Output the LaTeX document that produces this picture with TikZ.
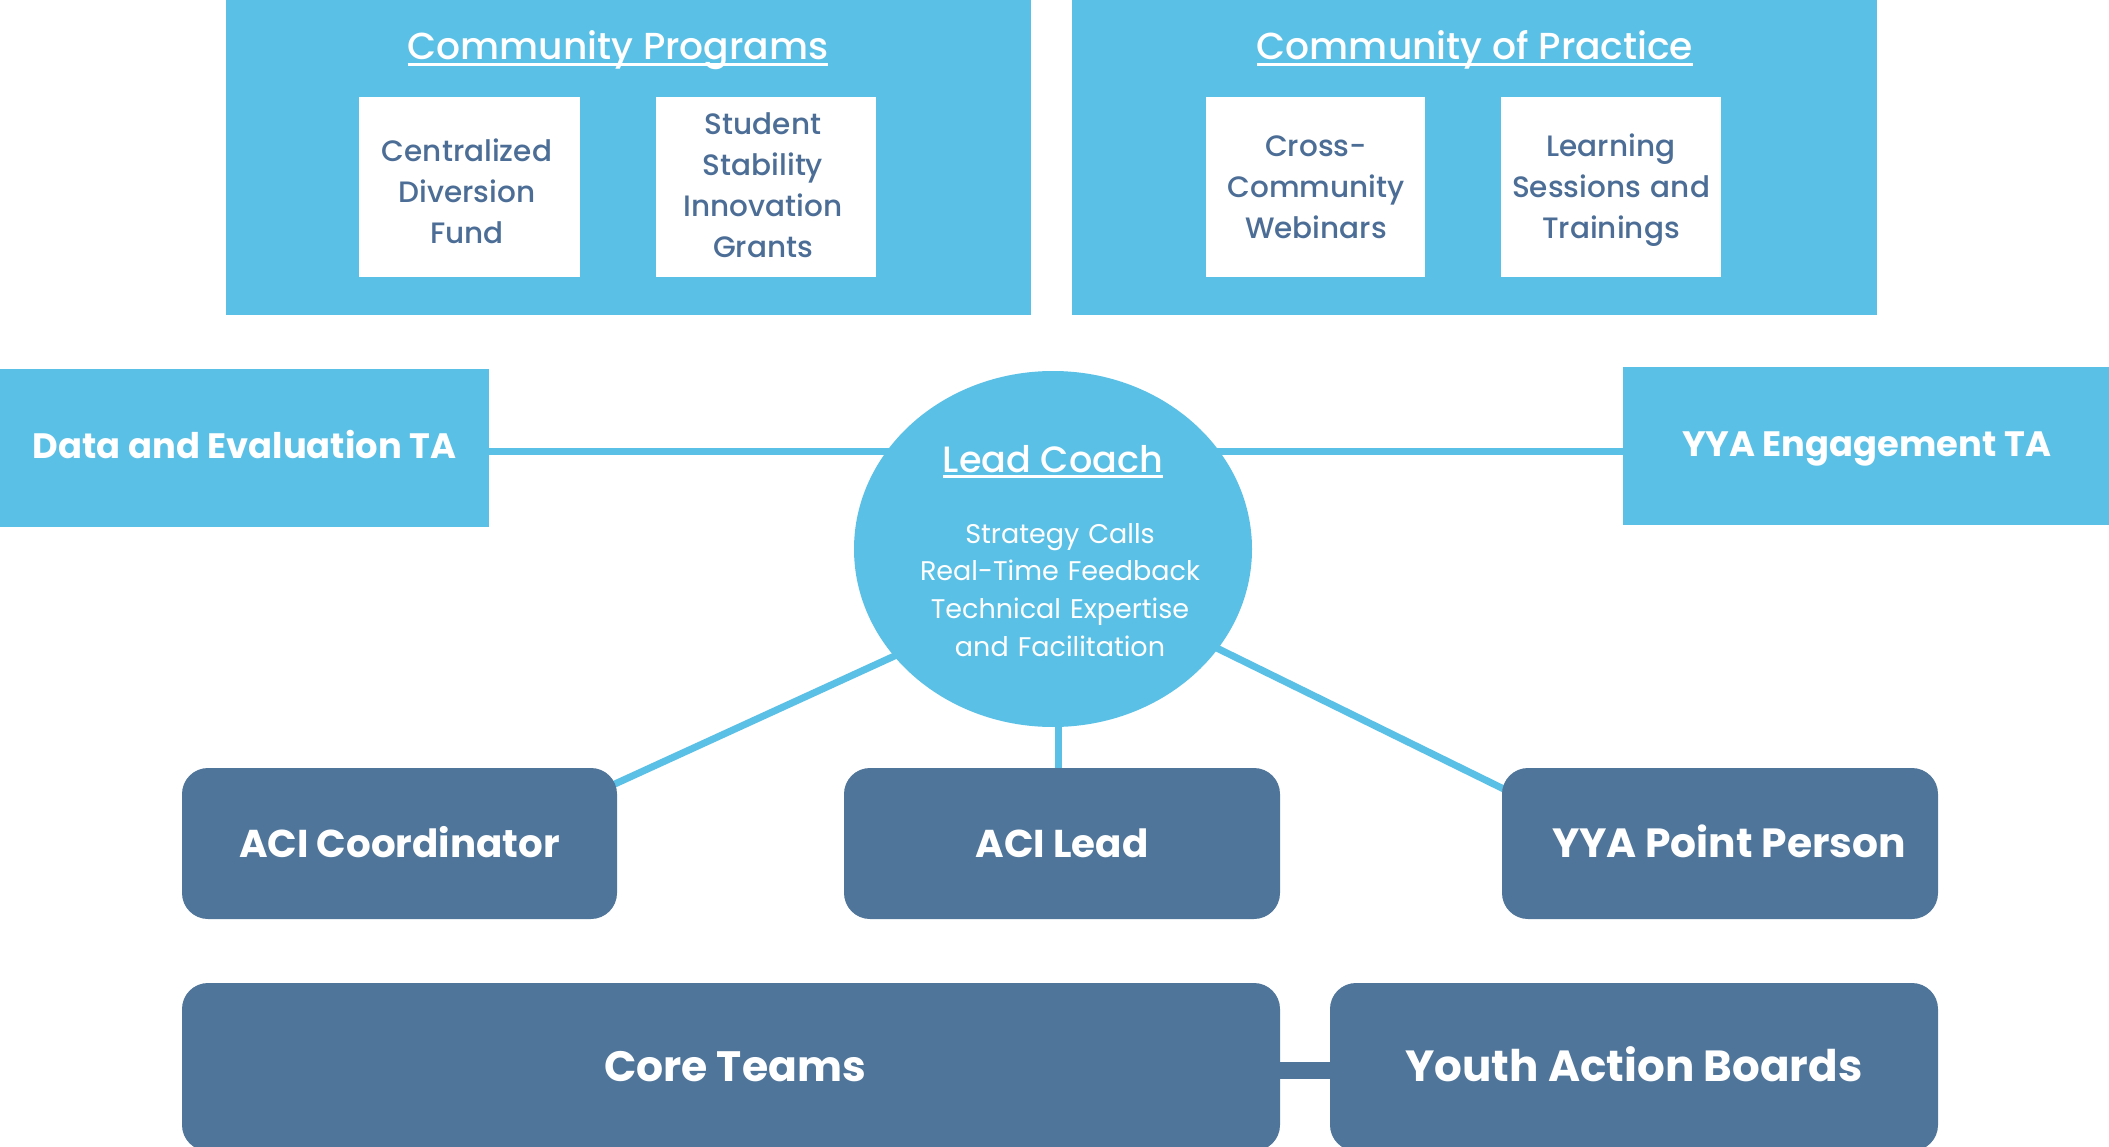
\documentclass[tikz,border=0pt]{standalone}
\usepackage{fontspec}
\setmainfont{Poppins}
\newfontfamily\pmed{Poppins Medium}
\newfontfamily\pbold{Poppins Bold}
\newfontfamily\preg{Poppins}
\usetikzlibrary{shapes.geometric,backgrounds,calc}
\definecolor{lb}{RGB}{91,192,230}
\definecolor{db}{RGB}{79,117,154}
\definecolor{tb}{RGB}{76,110,150}
\newcommand\ulin[1]{\setbox0\hbox{#1}\rlap{\rule[-6pt]{\wd0}{3pt}}\box0}
\begin{document}
\begin{tikzpicture}[x=1pt,y=-1pt,
  sky/.style={rectangle, fill=lb, draw=none, inner sep=0},
  card/.style={rectangle, fill=white, draw=none, inner sep=0, minimum height=180pt},
  navy/.style={rectangle, rounded corners=26pt, fill=db, draw=none, inner sep=0, text=white},
  conn/.style={draw=lb, line width=7pt},
  cardtxt/.style={anchor=base, text width=220pt, align=center, inner sep=0, text=tb, font=\pmed\fontsize{29.5}{41}\selectfont},
  title/.style={anchor=base, inner sep=0, text=white, font=\pmed\fontsize{37.6}{40}\selectfont},
  tabold/.style={font=\pbold\fontsize{35.3}{40}\selectfont, text=white, text height=20pt, text depth=0pt},
  rolebold/.style={font=\pbold\fontsize{38.8}{42}\selectfont, text height=28pt, text depth=0pt},
  corebold/.style={font=\pbold\fontsize{42.5}{45}\selectfont, text height=29pt, text depth=0pt}
]
\useasboundingbox (0,0) rectangle (2109,1147);
\clip (0,0) rectangle (2109,1147);

% top panels
\node[sky, minimum width=805pt, minimum height=325pt] (cp) at (628.5,152.5) {};
\node[title] (cpt) at (618,60) {\ulin{Community Programs}};
\node[card, minimum width=221pt] (cdf) at (469.5,187) {};
\node[cardtxt] (cdft) at (467,162) {Centralized\\Diversion\\Fund};
\node[card, minimum width=220pt] (ssg) at (766,187) {};
\node[cardtxt] (ssgt) at (763,135) {Student\\Stability\\Innovation\\Grants};

\node[sky, minimum width=805pt, minimum height=325pt] (cop) at (1474.5,152.5) {};
\node[title] (copt) at (1475,60) {\ulin{Community of Practice}};
\node[card, minimum width=219pt] (ccw) at (1315.5,187) {};
\node[cardtxt] (ccwt) at (1316,157) {Cross-\\Community\\Webinars};
\node[card, minimum width=220pt] (lst) at (1611,187) {};
\node[cardtxt] (lstt) at (1611,157) {Learning\\Sessions and\\Trainings};

% side boxes
\node[sky, tabold, minimum width=489pt, minimum height=158pt] (data) at (244.5,448) {Data and Evaluation TA};
\node[sky, tabold, minimum width=487pt, minimum height=158pt] (yya) at (1866.5,446) {YYA Engagement TA};

% lead coach
\node[ellipse, fill=lb, draw=none, minimum width=398pt, minimum height=356pt, inner sep=0] (lc) at (1053,549) {};
\node[title, font=\pmed\fontsize{36.6}{40}\selectfont] (lct) at (1053,472) {\ulin{Lead Coach}};
\node[anchor=base, inner sep=0, text width=360pt, align=center, text=white, font=\preg\fontsize{27}{37.7}\selectfont] (lcs) at (1060,543) {Strategy Calls\\Real-Time Feedback\\Technical Expertise\\and Facilitation};

% role boxes
\node[navy, rolebold, minimum width=435pt, minimum height=151pt] (acic) at (399.5,843.5) {ACI Coordinator};
\node[navy, rolebold, minimum width=436pt, minimum height=151pt] (acil) at (1062,843.5) {ACI Lead};
\node[navy, minimum width=436pt, minimum height=151pt] (yyap) at (1720,843.5) {};
\node[rolebold, font=\pbold\fontsize{40.8}{42}\selectfont, text=white, inner sep=0] (yyapt) at (1729,843.5) {YYA Point Person};

% bottom boxes
\node[navy, minimum width=1098pt, minimum height=168pt] (core) at (731,1067) {};
\node[corebold, text=white, inner sep=0] (coret) at (735,1067) {Core Teams};
\node[navy, corebold, font=\pbold\fontsize{43.6}{46}\selectfont, minimum width=608pt, minimum height=168pt] (yab) at (1634,1067) {Youth Action Boards};

% connectors
\coordinate (hl) at (1053,451);
\coordinate (vl) at (1058,549);
\begin{pgfonlayer}{background}
\draw[conn] (data.east |- hl) -- (hl) -- (yya.west |- hl);
\draw[conn] (vl) -- (vl |- acil.north);
\draw[conn] ($(acic.north east)+(-26,27)$) -- ($(lc.center)+(-93,77)$);
\draw[conn] ($(yyap.north west)+(28,34)$) -- ($(lc.center)+(127,81)$);
\draw[db, line width=17pt] (core.east |- 0,1070) -- (yab.west |- 0,1070);
\end{pgfonlayer}
\end{tikzpicture}
\end{document}
